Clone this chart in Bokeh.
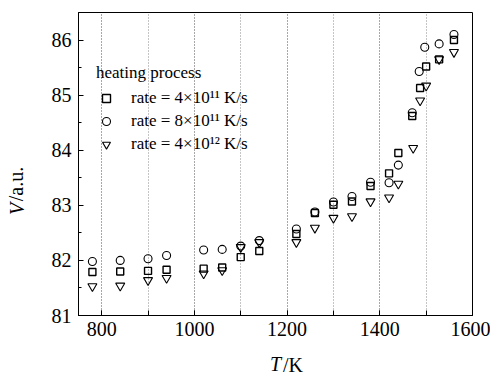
from bokeh.plotting import figure
from bokeh.models import Range1d, SingleIntervalTicker, FixedTicker, LinearAxis, Legend, LegendItem
from bokeh.embed import file_html
from bokeh.resources import INLINE

# ---- data ----
T_sq = [780, 840, 900, 940, 1020, 1060, 1100, 1140, 1220, 1260, 1300, 1340, 1380, 1420, 1440, 1470, 1487, 1500, 1528, 1560]
V_sq = [81.79, 81.80, 81.81, 81.83, 81.85, 81.87, 82.06, 82.17, 82.48, 82.86, 83.01, 83.07, 83.35, 83.58, 83.95, 84.62, 85.13, 85.52, 85.65, 86.00]

T_ci = [780, 840, 900, 940, 1020, 1060, 1100, 1140, 1220, 1260, 1300, 1340, 1380, 1420, 1440, 1470, 1485, 1497, 1528, 1560]
V_ci = [81.98, 82.00, 82.03, 82.09, 82.19, 82.20, 82.26, 82.36, 82.57, 82.88, 83.06, 83.16, 83.42, 83.41, 83.73, 84.68, 85.43, 85.87, 85.93, 86.10]

T_tr = [780, 840, 900, 940, 1020, 1060, 1100, 1140, 1220, 1260, 1300, 1340, 1380, 1420, 1440, 1472, 1487, 1500, 1528, 1560]
V_tr = [81.53, 81.54, 81.64, 81.68, 81.76, 81.82, 82.24, 82.33, 82.33, 82.59, 82.77, 82.80, 83.07, 83.14, 83.39, 84.04, 84.90, 85.17, 85.65, 85.78]

legend_title = "heating process"
series_labels = ["rate = 4\u00d710\u00b9\u00b9 K/s", "rate = 8\u00d710\u00b9\u00b9 K/s", "rate = 4\u00d710\u00b9\u00b2 K/s"]

x_symbol, x_unit = "T", "/K"
y_symbol, y_unit = "V", "/a.u."

FONT = "Liberation Serif"
NB = "\u00a0"

p = figure(width=490, height=380,
           x_range=Range1d(750, 1600), y_range=Range1d(81, 86.5),
           output_backend="svg", toolbar_location=None,
           min_border_left=78, min_border_right=18,
           min_border_top=12, min_border_bottom=65)

p.outline_line_color = "black"
p.outline_line_width = 1

# axes
p.xaxis.ticker = SingleIntervalTicker(interval=200, num_minor_ticks=2)
p.yaxis.ticker = SingleIntervalTicker(interval=1, num_minor_ticks=2)
for ax in (p.xaxis[0], p.yaxis[0]):
    ax.axis_line_color = "black"
    ax.major_tick_line_color = "black"
    ax.minor_tick_line_color = "black"
    ax.major_tick_out = 0
    ax.minor_tick_out = 0
    ax.major_tick_in = 5
    ax.major_label_text_font = FONT
    ax.major_label_text_font_size = "20px"
    ax.major_label_text_color = "black"
    ax.axis_label_text_font = FONT
    ax.axis_label_text_font_size = "20px"
    ax.axis_label_text_font_style = "normal"
    ax.axis_label_text_color = "black"
p.xaxis[0].minor_tick_in = 5
p.yaxis[0].minor_tick_in = 3
p.xaxis[0].major_label_standoff = 6
p.yaxis[0].major_label_standoff = 7
# upright unit parts of the axis titles
p.xaxis[0].axis_label = NB * 7 + x_unit
p.xaxis[0].axis_label_standoff = 15
p.yaxis[0].axis_label = y_unit + NB * 8
p.yaxis[0].axis_label_standoff = 22


def symbol_axis(text):
    # tick-less axis that only carries the italic symbol, pulled onto the same line
    return LinearAxis(ticker=FixedTicker(ticks=[]), axis_label=text,
                      axis_label_standoff=-26, axis_label_text_font=FONT,
                      axis_label_text_font_size="20px", axis_label_text_font_style="italic",
                      axis_label_text_color="black", axis_line_color=None,
                      major_tick_line_color=None, minor_tick_line_color=None,
                      major_tick_in=0, major_tick_out=0, minor_tick_in=0, minor_tick_out=0,
                      major_label_standoff=0, major_label_text_color=None)


p.add_layout(symbol_axis(x_symbol), "below")
p.add_layout(symbol_axis(y_symbol + NB * 18), "left")

# grid: dotted verticals only
p.xgrid.grid_line_color = "#8a8a8a"
p.xgrid.grid_line_dash = "1 2"
p.xgrid.minor_grid_line_color = "#8a8a8a"
p.xgrid.minor_grid_line_dash = "1 2"
p.ygrid.grid_line_color = None

# data markers
r_sq = p.scatter(T_sq, V_sq, marker="square", size=7, fill_color=None, line_color="black", line_width=1.4)
r_ci = p.scatter(T_ci, V_ci, marker="circle", size=8, fill_color=None, line_color="black", line_width=1.1)
r_tr = p.scatter(T_tr, V_tr, marker="inverted_triangle", size=9, fill_color=None, line_color="black", line_width=1.1)

legend = Legend(
    items=[LegendItem(label=series_labels[0], renderers=[r_sq]),
           LegendItem(label=series_labels[1], renderers=[r_ci]),
           LegendItem(label=series_labels[2], renderers=[r_tr])],
    location=(18, 161), title=legend_title,
    title_text_font=FONT, title_text_font_size="17px", title_text_font_style="normal",
    title_text_color="black", title_standoff=5,
    label_text_font=FONT, label_text_font_size="17px", label_text_color="black",
    label_standoff=15, glyph_width=20, glyph_height=20, label_height=20,
    spacing=3, padding=0, margin=0,
    background_fill_alpha=0, border_line_alpha=0)
p.add_layout(legend)

open("out.html", "w").write(file_html(p, INLINE))
